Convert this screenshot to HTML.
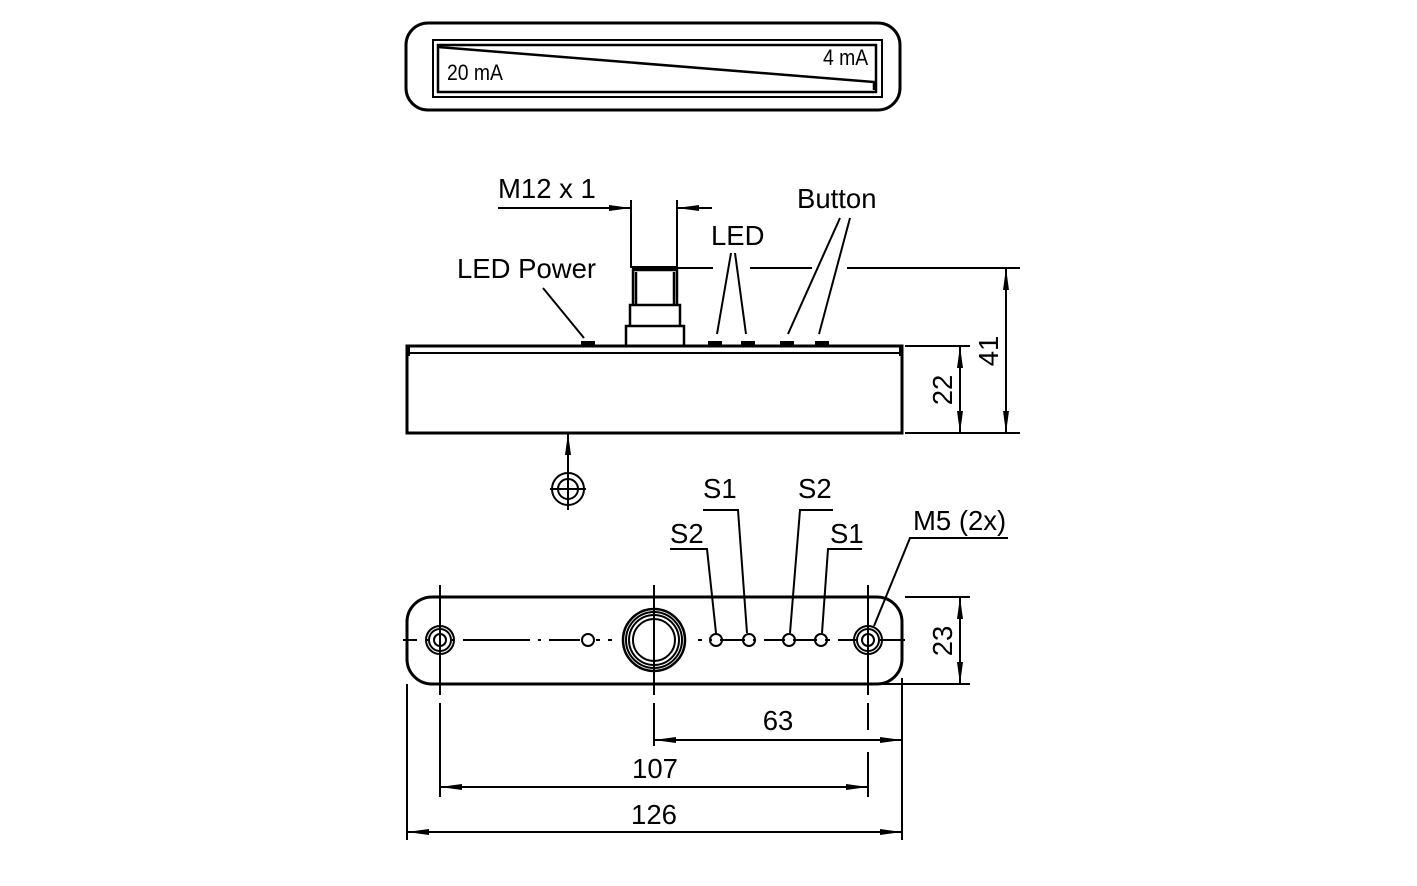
<!DOCTYPE html>
<html><head><meta charset="utf-8"><style>html,body{margin:0;padding:0;background:#fff}svg{display:block}</style></head><body>
<svg width="1417" height="886" viewBox="0 0 1417 886" xmlns="http://www.w3.org/2000/svg" font-family="Liberation Sans, sans-serif" fill="none" stroke="#000">
<defs>
<marker id="a" viewBox="0 0 22 6" refX="22" refY="3" markerWidth="22" markerHeight="6" markerUnits="userSpaceOnUse" orient="auto-start-reverse"><path d="M0,0L22,3L0,6z" fill="#000" stroke="none"/></marker>
</defs>
<rect x="406" y="23" width="494" height="87" rx="22" stroke-width="3"/>
<rect x="433" y="40" width="449" height="57" stroke-width="2"/>
<rect x="438" y="45" width="438" height="47" stroke-width="2.5"/>
<path d="M438,47 L874,82 L874,90" stroke-width="2.5"/>
<text x="447" y="80" font-size="22" fill="#000" stroke="none" transform="translate(447 0) scale(0.88 1) translate(-447 0)">20 mA</text>
<text x="823" y="65" font-size="22" fill="#000" stroke="none" transform="translate(823 0) scale(0.88 1) translate(-823 0)">4 mA</text>

<rect x="407" y="346" width="495" height="87" stroke-width="3"/>
<line x1="407" y1="353" x2="902" y2="353" stroke-width="2"/>
<line x1="409" y1="346" x2="409" y2="356" stroke-width="2"/>
<line x1="900" y1="346" x2="900" y2="356" stroke-width="2"/>
<path d="M626,345 V326 H684 V345 M630,326 V305 H680 V326 M633,305 V270 H677 V305 M636,305 V272 M674,305 V272" stroke-width="2.5"/>
<line x1="632" y1="268" x2="678" y2="268" stroke-width="4"/>
<g fill="#000" stroke="none">
<rect x="581" y="341" width="14" height="4"/>
<rect x="708" y="341" width="14" height="4"/>
<rect x="741" y="341" width="14" height="4"/>
<rect x="780" y="341" width="14" height="4"/>
<rect x="815" y="341" width="14" height="4"/>
</g>
<g stroke-width="2">
<line x1="631" y1="200" x2="631" y2="268"/>
<line x1="677" y1="200" x2="677" y2="268"/>
<line x1="498" y1="208" x2="631" y2="208" marker-end="url(#a)"/>
<line x1="712" y1="208" x2="677" y2="208" marker-end="url(#a)"/>
<path d="M677,268 H713 M750,268 H812 M847,268 H1020"/>
<line x1="543" y1="288" x2="584" y2="338"/>
<line x1="731" y1="253" x2="717" y2="334"/>
<line x1="735" y1="253" x2="746" y2="334"/>
<line x1="840" y1="218" x2="788" y2="334"/>
<line x1="850" y1="218" x2="819" y2="334"/>
<line x1="905" y1="346" x2="970" y2="346"/>
<line x1="905" y1="433" x2="1020" y2="433"/>
<line x1="960" y1="346" x2="960" y2="433" marker-start="url(#a)" marker-end="url(#a)"/>
<line x1="1006" y1="268" x2="1006" y2="433" marker-start="url(#a)" marker-end="url(#a)"/>
<line x1="568" y1="475" x2="568" y2="433" marker-end="url(#a)"/>
<circle cx="568" cy="489" r="16"/>
<circle cx="568" cy="489" r="10"/>
<line x1="550" y1="489" x2="586" y2="489"/>
<line x1="568" y1="470" x2="568" y2="510"/>
</g>
<g fill="#000" stroke="none" font-size="27.5">
<text x="498" y="198">M12 x 1</text>
<text x="797" y="208">Button</text>
<text x="711" y="245">LED</text>
<text x="457" y="278">LED Power</text>
<text transform="translate(952 390) rotate(-90)" text-anchor="middle">22</text>
<text transform="translate(998 351) rotate(-90)" text-anchor="middle">41</text>
</g>

<rect x="407" y="597" width="495" height="87" rx="25" stroke-width="3"/>
<g stroke-width="2">
<path d="M403,640 H417 M425,640 H428 M452,640 H455 M463,640 H530 M538,640 H541 M549,640 H580 M596,640 H600 M608,640 H612 M698,640 H702 M710,640 H712 M720,640 H745 M753,640 H756 M764,640 H785 M793,640 H817 M825,640 H830 M838,640 H856 M880,640 H905"/>
<circle cx="440" cy="640" r="14"/><circle cx="440" cy="640" r="11"/><circle cx="440" cy="640" r="6"/>
<circle cx="868" cy="640" r="14"/><circle cx="868" cy="640" r="11"/><circle cx="868" cy="640" r="6"/>
<circle cx="588" cy="640" r="6"/>
<circle cx="654" cy="640" r="31" stroke-width="2.5"/><circle cx="654" cy="640" r="28"/><circle cx="654" cy="640" r="25"/><circle cx="654" cy="640" r="21"/>
<circle cx="716" cy="640" r="6"/><circle cx="749" cy="640" r="6"/><circle cx="789" cy="640" r="6"/><circle cx="821" cy="640" r="6"/>
<line x1="440" y1="585" x2="440" y2="695"/>
<line x1="654" y1="585" x2="654" y2="695"/>
<line x1="868" y1="585" x2="868" y2="695"/>
<path d="M440,703 V797 M654,703 V746 M868,703 V730 M868,752 V797" />
<line x1="407" y1="684" x2="407" y2="840"/>
<line x1="902" y1="678" x2="902" y2="840"/>
<line x1="905" y1="597" x2="970" y2="597"/>
<line x1="880" y1="684" x2="970" y2="684"/>
<line x1="960" y1="597" x2="960" y2="684" marker-start="url(#a)" marker-end="url(#a)"/>
<line x1="654" y1="740" x2="902" y2="740" marker-start="url(#a)" marker-end="url(#a)"/>
<line x1="440" y1="787" x2="868" y2="787" marker-start="url(#a)" marker-end="url(#a)"/>
<line x1="407" y1="832" x2="902" y2="832" marker-start="url(#a)" marker-end="url(#a)"/>
<path d="M670,549 H707 L716,633"/>
<path d="M703,510 H738 L747,633"/>
<path d="M833,510 H800 L790,633"/>
<path d="M862,549 H828 L822,633"/>
<path d="M1008,538 H910 L874,626"/>
</g>
<g fill="#000" stroke="none" font-size="27.5">
<text x="670" y="543">S2</text>
<text x="703" y="498">S1</text>
<text x="798" y="498">S2</text>
<text x="830" y="543">S1</text>
<text x="913" y="530">M5 (2x)</text>
<text transform="translate(952 641) rotate(-90)" text-anchor="middle">23</text>
<text x="778" y="730" text-anchor="middle">63</text>
<text x="655" y="778" text-anchor="middle">107</text>
<text x="654" y="824" text-anchor="middle">126</text>
</g>
</svg>
</body></html>
